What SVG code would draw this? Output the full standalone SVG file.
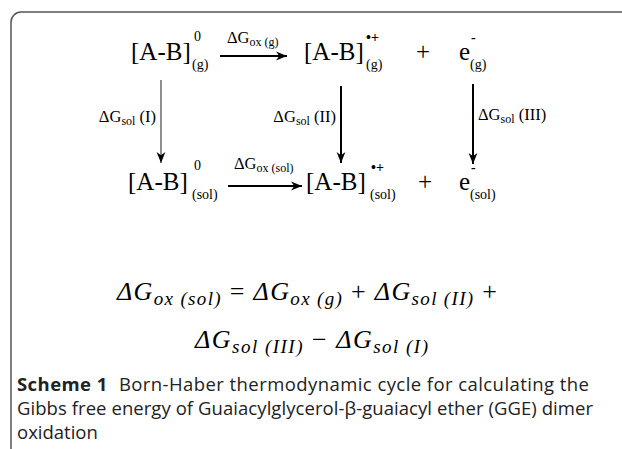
<svg xmlns="http://www.w3.org/2000/svg" width="622" height="449" viewBox="0 0 622 449">
<defs>
<marker id="ah" viewBox="0 0 10 10" refX="10" refY="5" markerWidth="11" markerHeight="11" markerUnits="userSpaceOnUse" orient="auto">
<path d="M0,1 L10,5 L0,9 L3,5 Z" fill="#000"/>
</marker>
<style>
.ch{font-family:"Liberation Serif","Times New Roman",serif;font-size:25px;fill:#000}
.sc{font-family:"Liberation Serif","Times New Roman",serif;font-size:14px;fill:#000}
.lb{font-family:"Liberation Serif","Times New Roman",serif;font-size:16.5px;fill:#000}
.ls{font-size:12px}
.eq{font-family:"Liberation Serif","Times New Roman",serif;font-style:italic;font-size:26px;fill:#000}
.es{font-size:19px}
.cap{font-family:"Open Sans","Noto Sans",sans-serif;font-size:18.5px;fill:#222}
.arr{stroke:#000;stroke-width:2;fill:none}
.thin{stroke:#444;stroke-width:1.2}
</style>
</defs>
<rect width="622" height="449" fill="#fff"/>
<path d="M11,449 V22 A10,10 0 0 1 21,12 H622" fill="none" stroke="#555" stroke-width="1.5"/>

<g id="connectors">
<line class="arr" x1="220" y1="56" x2="287" y2="56" marker-end="url(#ah)"/>
<line class="arr" x1="228" y1="186" x2="302" y2="186" marker-end="url(#ah)"/>
<line class="arr thin" x1="161" y1="80" x2="161" y2="163" marker-end="url(#ah)"/>
<line class="arr" x1="341" y1="86" x2="341" y2="163" marker-end="url(#ah)"/>
<line class="arr" x1="473" y1="84" x2="473" y2="164" marker-end="url(#ah)"/>
<text class="lb" x="227" y="43">ΔG<tspan class="ls" dy="3">ox (g)</tspan></text>
<text class="lb" x="234" y="169">ΔG<tspan class="ls" dy="3">ox (sol)</tspan></text>
<text class="lb" x="156" y="122" text-anchor="end">ΔG<tspan class="ls" dy="3">sol</tspan><tspan dy="-3"> (I)</tspan></text>
<text class="lb" x="336" y="122" text-anchor="end">ΔG<tspan class="ls" dy="3">sol</tspan><tspan dy="-3"> (II)</tspan></text>
<text class="lb" x="478" y="120">ΔG<tspan class="ls" dy="3">sol</tspan><tspan dy="-3"> (III)</tspan></text>
</g>

<g id="AB_g">
<text class="ch" x="131" y="60">[A-B]</text>
<text class="sc" x="194" y="41">0</text>
<text class="sc" x="192" y="69">(g)</text>
</g>
<g id="AB_cation_g">
<text class="ch" x="304" y="60">[A-B]</text>
<text class="sc" x="366" y="42" font-weight="bold">•+</text>
<text class="sc" x="366" y="69">(g)</text>
</g>
<g id="plus_g"><text class="ch" x="416" y="60">+</text></g>
<g id="e_g">
<text class="ch" x="459" y="60">e</text>
<text class="sc" x="471" y="42" font-weight="bold">-</text>
<text class="sc" x="470" y="69">(g)</text>
</g>

<g id="AB_sol">
<text class="ch" x="128" y="190">[A-B]</text>
<text class="sc" x="194" y="170">0</text>
<text class="sc" x="192" y="199">(sol)</text>
</g>
<g id="AB_cation_sol">
<text class="ch" x="306" y="190">[A-B]</text>
<text class="sc" x="371" y="172" font-weight="bold">•+</text>
<text class="sc" x="370" y="199">(sol)</text>
</g>
<g id="plus_sol"><text class="ch" x="418" y="190">+</text></g>
<g id="e_sol">
<text class="ch" x="459" y="190">e</text>
<text class="sc" x="471" y="172" font-weight="bold">-</text>
<text class="sc" x="470" y="199">(sol)</text>
</g>

<g id="equation">
<text class="eq" x="117" y="300" textLength="380" lengthAdjust="spacing">ΔG<tspan class="es" dy="5">ox (sol)</tspan><tspan dy="-5" font-style="normal"> = </tspan><tspan>ΔG</tspan><tspan class="es" dy="5">ox (g)</tspan><tspan dy="-5" font-style="normal"> + </tspan><tspan>ΔG</tspan><tspan class="es" dy="5">sol (II)</tspan><tspan dy="-5" font-style="normal"> +</tspan></text>
<text class="eq" x="195" y="348" textLength="233" lengthAdjust="spacing">ΔG<tspan class="es" dy="5">sol (III)</tspan><tspan dy="-5" font-style="normal"> − </tspan><tspan>ΔG</tspan><tspan class="es" dy="5">sol (I)</tspan></text>
</g>

<g id="caption">
<text class="cap" x="17" y="391" textLength="572" lengthAdjust="spacing"><tspan font-weight="bold">Scheme 1</tspan><tspan dx="6"> Born-Haber thermodynamic cycle for calculating the</tspan></text>
<text class="cap" x="17" y="415" textLength="576" lengthAdjust="spacing">Gibbs free energy of Guaiacylglycerol-β-guaiacyl ether (GGE) dimer</text>
<text class="cap" x="17" y="439">oxidation</text>
</g>
</svg>
